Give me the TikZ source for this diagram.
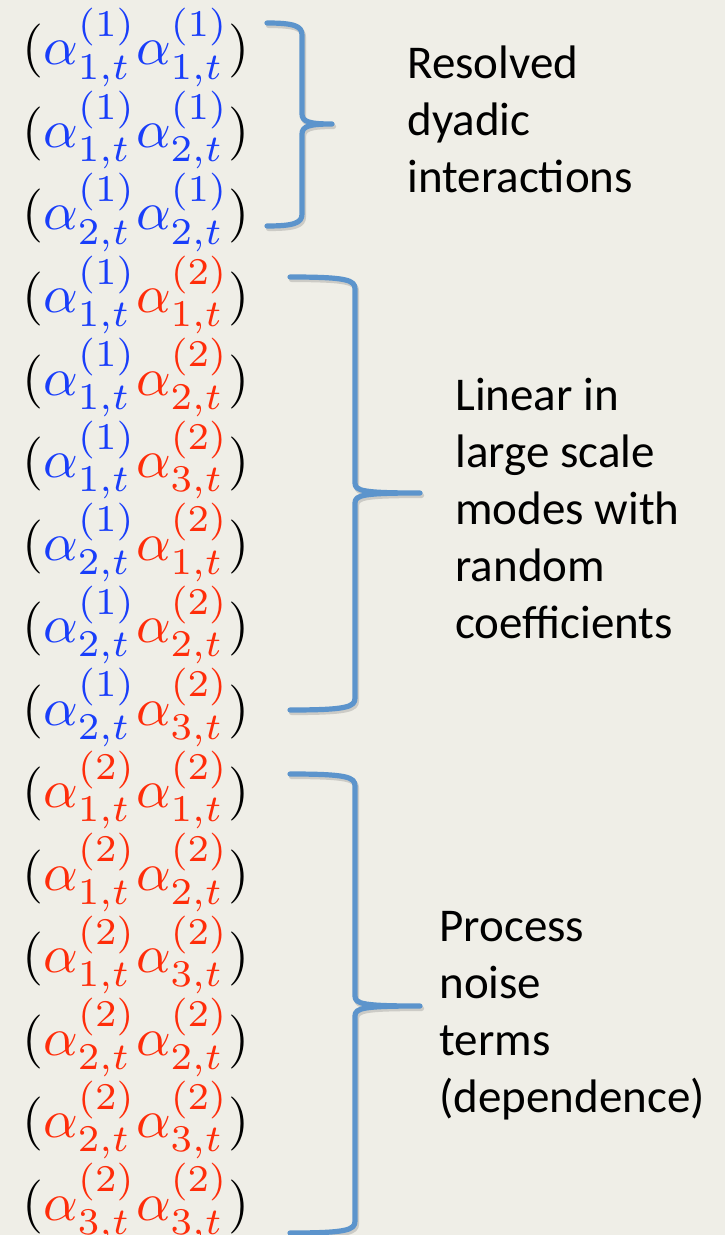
\RequirePackage{fix-cm}
\documentclass[tikz,border=0pt]{standalone}
\usepackage{fontspec}
\newfontfamily\slidefont{Carlito}
\usetikzlibrary{positioning}

\definecolor{slidebg}{RGB}{239,238,231}
\definecolor{lev1}{RGB}{25,62,250}
\definecolor{lev2}{RGB}{255,45,10}
\definecolor{bracecol}{RGB}{92,148,204}

% one mode amplitude, coloured by its level
\newcommand{\ampl}[2]{{\color{lev#1}\alpha^{(#1)}_{#2,t}}}

% x0, x of stem, x of tip, y top, y tip, y bottom
\newcommand{\slidebrace}[6]{%
    \foreach \sty in {braceshadow,bracestyle}
    \draw[\sty] (#1,#4) .. controls ({#2-8},#4) and (#2,{#4+3}) .. (#2,{#4+12})
        -- (#2,{#5-10}) .. controls (#2,{#5-2}) and ({#2+8},#5) .. (#3,#5)
        .. controls ({#2+8},#5) and (#2,{#5+2}) .. (#2,{#5+10})
        -- (#2,{#6-12}) .. controls (#2,{#6-3}) and ({#2-8},#6) .. (#1,#6);%
}

\begin{document}
\begin{tikzpicture}[x=0.5pt, y=-0.5pt,
        bracestyle/.style={draw=bracecol, line width=2.6pt, line cap=round, line join=round},
        braceshadow/.style={draw=black!60, opacity=0.25, line width=2.6pt, line cap=round,
            line join=round, shift={(1.5,2.5)}},
        term/.style={anchor=base west, inner sep=0pt},
        note/.style={anchor=base west, inner sep=0pt, align=left,
            font=\slidefont\fontsize{23.5}{28.5}\selectfont}
    ]
    \fill[slidebg] (0,0) rectangle (725,1235);
    \useasboundingbox (0,0) rectangle (725,1235);

    \foreach \pa/\sa/\pb/\sb [count=\i] in
        {1/1/1/1, 1/1/1/2, 1/2/1/2,
         1/1/2/1, 1/1/2/2, 1/1/2/3, 1/2/2/1, 1/2/2/2, 1/2/2/3,
         2/1/2/1, 2/1/2/2, 2/1/2/3, 2/2/2/2, 2/2/2/3, 2/3/2/3}
        \node[term] (r\i) at (22,{65+82.5*(\i-1)})
            {\scalebox{2.7}{$(\ampl{\pa}{\sa}\ampl{\pb}{\sb})$}};

    \slidebrace{267}{302}{332}{23}{124}{226}
    \slidebrace{290}{355}{420}{277}{493}{710}
    \slidebrace{290}{355}{420}{774}{1006}{1233}

    % base anchor sits on the last line
    \node[note] (resolved) at (407,193) {Resolved\\dyadic\\interactions};
    \node[note] (linear) at (455,638) {Linear in\\large scale\\modes with\\random\\coefficients};
    \node[note] (noise) at (439,1112) {Process\\noise\\terms\\(dependence)};
\end{tikzpicture}
\end{document}
